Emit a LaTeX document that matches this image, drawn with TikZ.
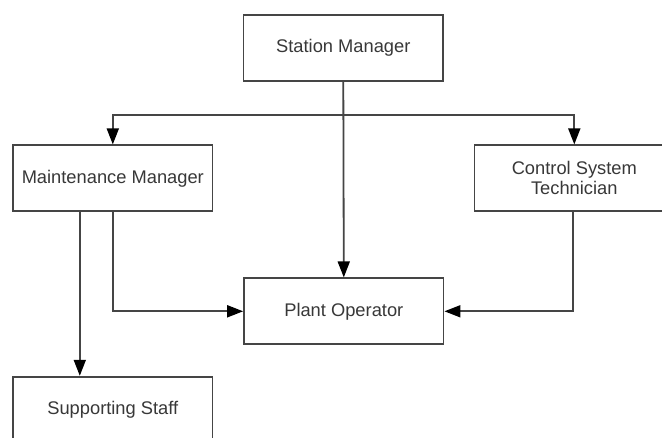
\documentclass[tikz,border=0pt]{standalone}
\usepackage{fontspec}
\setmainfont{Liberation Sans}
\usetikzlibrary{arrows.meta}
\definecolor{edge}{HTML}{454545}
\definecolor{ink}{HTML}{383838}
\begin{document}
\begin{tikzpicture}[x=1pt,y=-1pt,
  box/.style={draw=edge, line width=1.8pt, fill=white, rectangle,
    minimum width=199.5pt, minimum height=66pt, inner sep=0pt,
    text=ink, align=center, font=\fontsize{18.3}{20}\selectfont},
  link/.style={draw=edge, line width=1.8pt},
  arr/.style={link, -{Triangle[length=16pt,width=12pt,fill=black,color=black]}}]
  \clip (0,0) rectangle (662,438);
  \fill[white] (0,0) rectangle (662,438);

  \node[box] (sm)  at (343.3,47.8)  {Station Manager};
  \node[box] (mm)  at (112.8,178.3) {Maintenance Manager};
  \node[box] (cst) at (574.3,178.3) {Control System\\Technician};
  \node[box] (po)  at (343.8,311.3) {Plant Operator};
  \node[box] (ss)  at (112.8,409.7) {Supporting Staff};

  % distribution bar under the station manager
  \coordinate (bar) at (343.3,115);
  \draw[arr] (bar) -| (mm.north);
  \draw[arr] (bar) -| (cst.north);
  \draw[arr] (sm.south) -- (po.north);

  % reporting lines into the plant operator
  \draw[arr] (mm.south) |- (po.west);
  \draw[arr] ([xshift=-1.5pt]cst.south) |- (po.east);

  % maintenance manager to supporting staff
  \draw[arr] ([xshift=-33pt]mm.south) -- ([xshift=-33pt]ss.north);
\end{tikzpicture}
\end{document}
